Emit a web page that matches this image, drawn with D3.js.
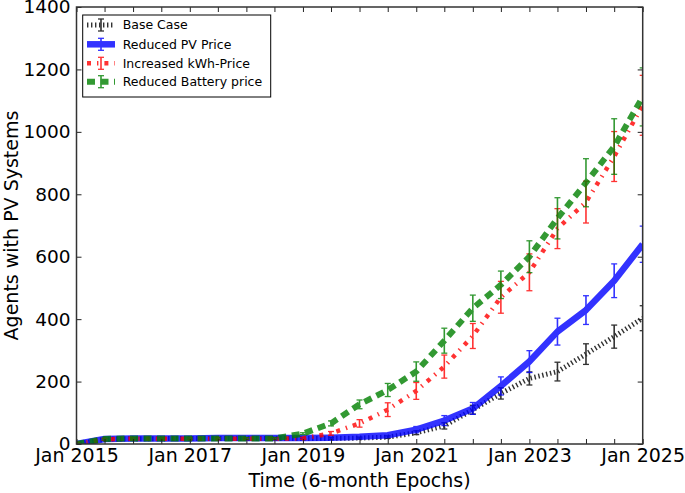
<!DOCTYPE html>
<html>
<head>
<meta charset="utf-8">
<script src="https://cdn.jsdelivr.net/npm/d3@7"></script>
<style>
  html, body { margin: 0; padding: 0; background: #fff; }
  svg { display: block; font-family: "DejaVu Sans", sans-serif; }
</style>
</head>
<body>
<svg id="chart" width="685" height="493"></svg>
<script>
// ---- data (6-month epochs, Jan 2015 .. Jan 2025) ----
const epochs = ["2015-01","2015-07","2016-01","2016-07","2017-01","2017-07","2018-01","2018-07",
  "2019-01","2019-07","2020-01","2020-07","2021-01","2021-07","2022-01","2022-07",
  "2023-01","2023-07","2024-01","2024-07","2025-01"];
const seriesNames = ["Base Case","Reduced PV Price","Increased kWh-Price","Reduced Battery price"];
const baseCase      = [0,15,17,17,18,18,18,18,18,18,19,22,36,58,110,162,210,232,288,344,403];
const baseCaseErr   = [0,3,3,3,3,3,3,3,3,3,3,4,6,10,14,18,21,30,33,37,40];
const reducedPV     = [0,16,18,18,18,19,19,19,19,20,23,28,46,75,114,186,264,360,429,523,640];
const reducedPVErr  = [0,3,3,3,3,3,3,3,3,3,4,5,10,16,19,29,35,43,46,54,58];
const increasedKWh    = [0,15,17,17,17,17,17,17,18,34,66,110,170,248,346,470,550,690,775,921,1085];
const increasedKWhErr = [0,3,3,3,3,3,3,3,3,6,12,22,27,37,40,51,59,64,67,80,96];
const reducedBatt     = [0,16,18,18,18,18,18,18,33,66,127,173,232,331,435,510,600,723,837,953,1112];
const reducedBattErr  = [0,3,3,3,3,3,3,3,3,8,14,21,31,40,42,44,51,66,77,89,93];
const yTicks = [0,200,400,600,800,1000,1200,1400];

// ---- layout ----
const svg = d3.select("#chart");
const X0 = 76.5, X1 = 642.7, Y0 = 7, Y1 = 444;
const parse = d3.timeParse("%Y-%m");
const dates = epochs.map(parse);
const x = d3.scaleTime().domain([dates[0], dates[dates.length-1]]).range([X0, X1]);
const y = d3.scaleLinear().domain([0, 1400]).range([Y1, Y0]);

const styles = [
  { color: "#000000", width: 5,   dash: "1.4,2.6" },
  { color: "#0000ff", width: 6.5, dash: null },
  { color: "#ff0000", width: 4.5, dash: "4,6,1.4,6" },
  { color: "#008000", width: 6,   dash: "8,5.5" }
];
const series = [
  { name: seriesNames[0], v: baseCase,     e: baseCaseErr },
  { name: seriesNames[1], v: reducedPV,    e: reducedPVErr },
  { name: seriesNames[2], v: increasedKWh, e: increasedKWhErr },
  { name: seriesNames[3], v: reducedBatt,  e: reducedBattErr }
];

svg.append("defs").append("clipPath").attr("id", "plotclip")
  .append("rect").attr("x", X0).attr("y", Y0).attr("width", X1 - X0).attr("height", Y1 - Y0);

const plot = svg.append("g").attr("clip-path", "url(#plotclip)");
const line = d3.line().x((d, i) => x(dates[i])).y(d => y(d));

series.forEach((s, si) => {
  const st = styles[si];
  const g = plot.append("g").attr("opacity", 0.8);
  g.append("path").datum(s.v)
    .attr("d", line).attr("fill", "none")
    .attr("stroke", st.color).attr("stroke-width", st.width)
    .attr("stroke-dasharray", st.dash)
    .attr("stroke-linecap", "butt").attr("stroke-linejoin", "round");
  const eb = g.selectAll("g.eb").data(s.v.map((v, i) => ({ v, e: s.e[i], d: dates[i] })).filter(d => d.e > 0))
    .join("g").attr("class", "eb");
  eb.append("line").attr("x1", d => x(d.d)).attr("x2", d => x(d.d))
    .attr("y1", d => y(d.v - d.e)).attr("y2", d => y(d.v + d.e))
    .attr("stroke", st.color).attr("stroke-width", 1.6);
  [-1, 1].forEach(sg => {
    eb.append("line").attr("x1", d => x(d.d) - 3).attr("x2", d => x(d.d) + 3)
      .attr("y1", d => y(d.v + sg * d.e)).attr("y2", d => y(d.v + sg * d.e))
      .attr("stroke", st.color).attr("stroke-width", 1.3);
  });
});

// ---- axes ----
const tickDates = d3.timeMonth.every(6).range(dates[0], d3.timeDay.offset(dates[dates.length-1], 1));
const fmt = d => (d.getMonth() === 0 && d.getFullYear() % 2 === 1) ? "Jan " + d.getFullYear() : "";

const axB = svg.append("g").attr("transform", `translate(0,${Y1})`)
  .call(d3.axisBottom(x).tickValues(tickDates).tickFormat(fmt).tickSizeInner(-5).tickSizeOuter(0).tickPadding(5));
const axT = svg.append("g").attr("transform", `translate(0,${Y0})`)
  .call(d3.axisTop(x).tickValues(tickDates).tickFormat("").tickSizeInner(-5).tickSizeOuter(0));
const axL = svg.append("g").attr("transform", `translate(${X0},0)`)
  .call(d3.axisLeft(y).tickValues(yTicks).tickFormat(d3.format("d")).tickSizeInner(-5).tickSizeOuter(0).tickPadding(6));
const axR = svg.append("g").attr("transform", `translate(${X1},0)`)
  .call(d3.axisRight(y).tickValues(yTicks).tickFormat("").tickSizeInner(-5).tickSizeOuter(0));

[axB, axT, axL, axR].forEach(a => {
  a.select(".domain").remove();
  a.selectAll(".tick line").attr("stroke", "#222").attr("stroke-width", 1);
  a.selectAll("text").attr("fill", "#000").attr("font-family", "DejaVu Sans").attr("font-size", 18.5);
});
axB.selectAll("text").attr("font-size", 19);

svg.append("rect").attr("x", X0).attr("y", Y0).attr("width", X1 - X0).attr("height", Y1 - Y0)
  .attr("fill", "none").attr("stroke", "#333").attr("stroke-width", 1.5);

// axis titles
svg.append("text").attr("x", (X0 + X1) / 2).attr("y", 487).attr("text-anchor", "middle")
  .attr("font-size", 19).attr("fill", "#000").text("Time (6-month Epochs)");
svg.append("text").attr("transform", `translate(18,${(Y0 + Y1) / 2}) rotate(-90)`)
  .attr("text-anchor", "middle").attr("font-size", 19).attr("fill", "#000").text("Agents with PV Systems");

// ---- legend ----
const leg = svg.append("g");
leg.append("rect").attr("x", 82.7).attr("y", 15).attr("width", 188).attr("height", 82)
  .attr("fill", "#fff").attr("stroke", "#000").attr("stroke-width", 1);
const rowsY = [25, 44.3, 63.3, 81.7];
series.forEach((s, si) => {
  const st = styles[si];
  const ry = rowsY[si];
  const g = leg.append("g");
  const gl = g.append("g").attr("opacity", 0.8);
  gl.append("line").attr("x1", 87).attr("x2", 115).attr("y1", ry).attr("y2", ry)
    .attr("stroke", st.color).attr("stroke-width", st.width).attr("stroke-dasharray", st.dash);
  gl.append("line").attr("x1", 101).attr("x2", 101).attr("y1", ry - 6).attr("y2", ry + 6)
    .attr("stroke", st.color).attr("stroke-width", 1.6);
  [-6, 6].forEach(o => gl.append("line").attr("x1", 98).attr("x2", 104).attr("y1", ry + o).attr("y2", ry + o)
    .attr("stroke", st.color).attr("stroke-width", 1.3));
  g.append("text").attr("x", 122.7).attr("y", ry).attr("dy", "0.35em")
    .attr("font-size", 12.5).attr("fill", "#000").text(s.name);
});
</script>
</body>
</html>
